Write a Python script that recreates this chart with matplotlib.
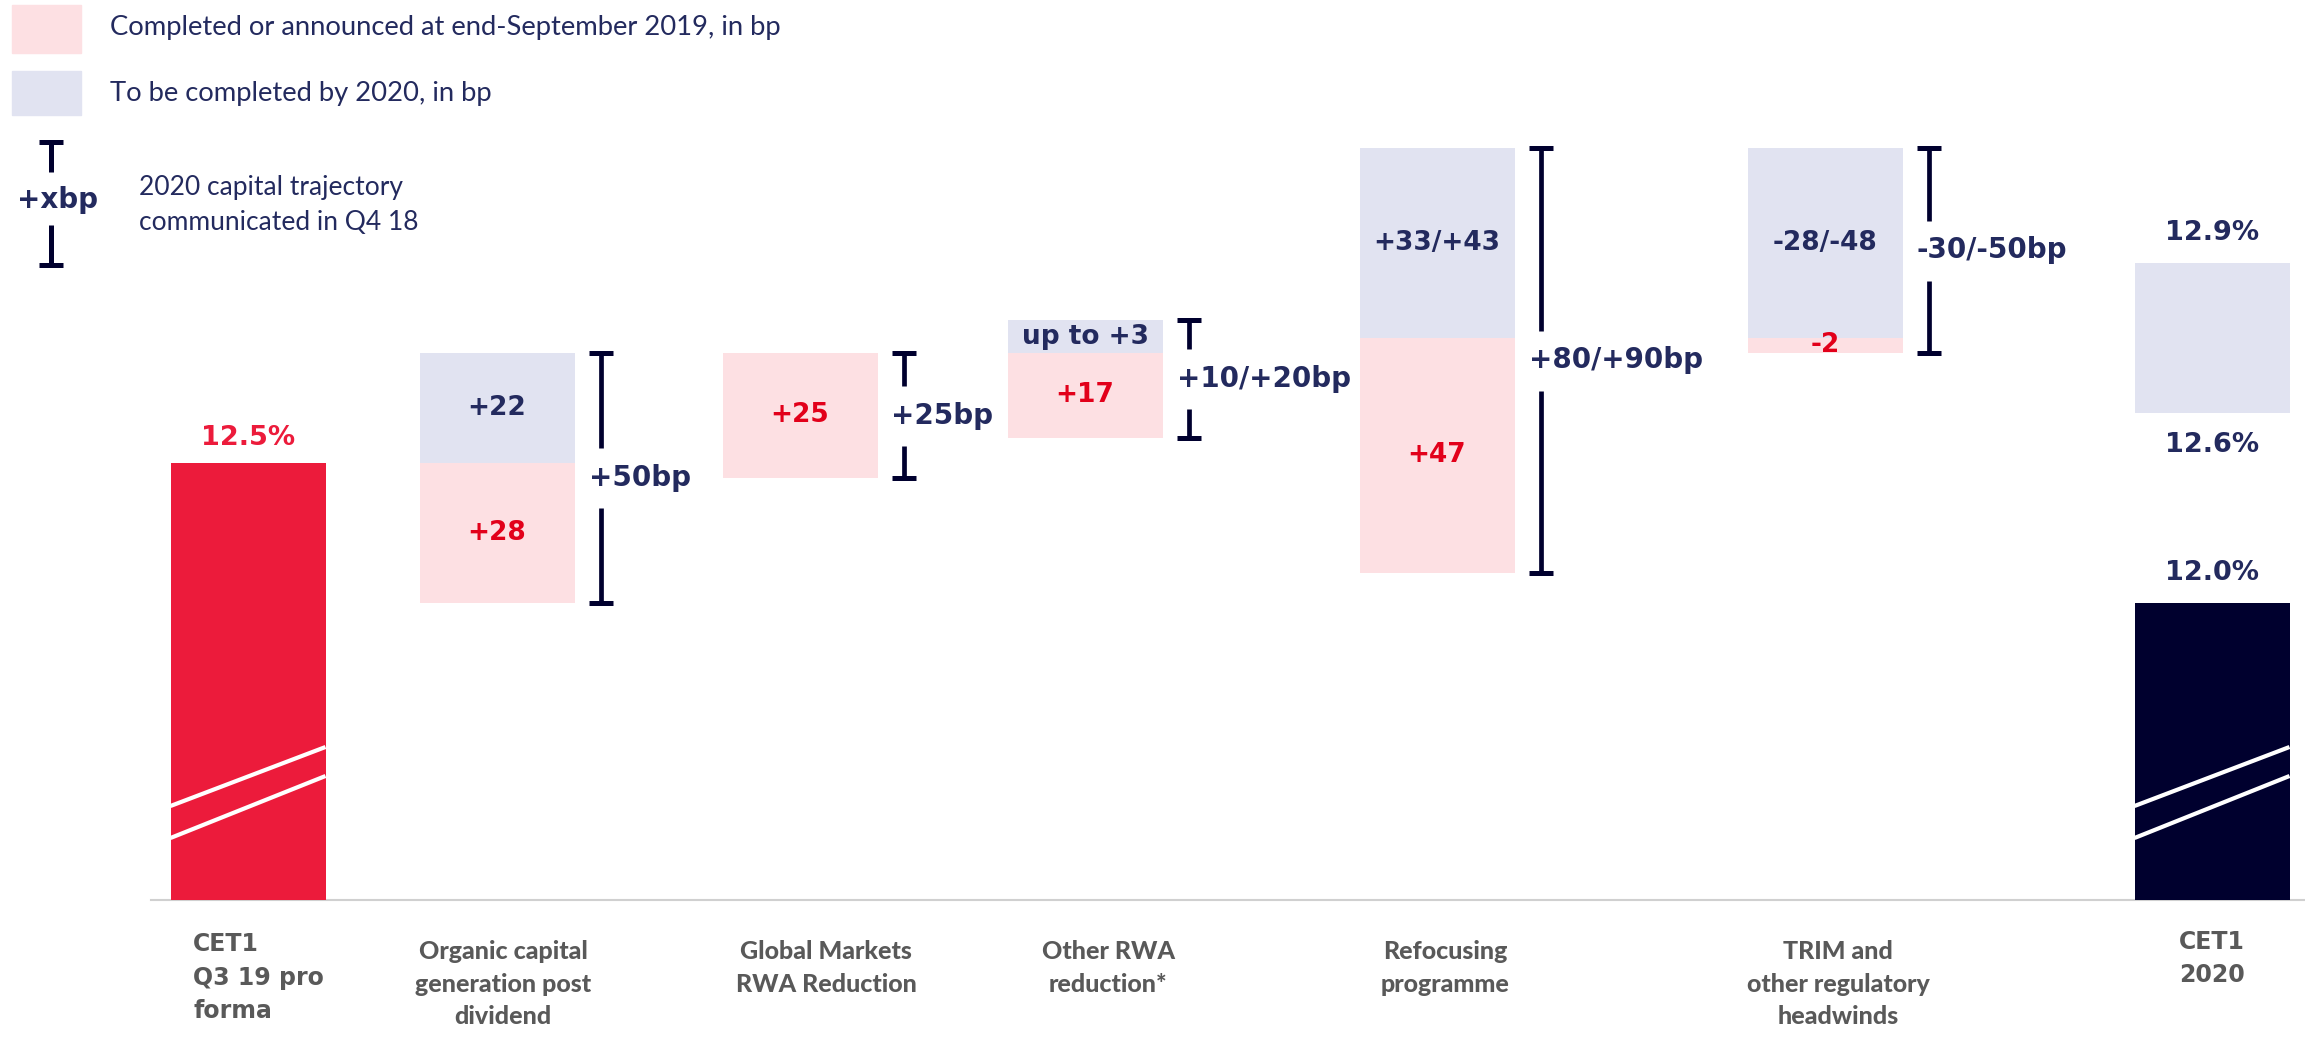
import matplotlib
matplotlib.use("Agg")
import matplotlib.pyplot as plt
from matplotlib.patches import Rectangle

# ---------------- data ----------------
categories = ["CET1\nQ3 19 pro\nforma",
              "Organic capital\ngeneration post\ndividend",
              "Global Markets\nRWA Reduction",
              "Other RWA\nreduction*",
              "Refocusing\nprogramme",
              "TRIM and\nother regulatory\nheadwinds",
              "CET1\n2020"]
cet1_start = 12.5                    # % , Q3 19 pro forma
cet1_end_low, cet1_end_high = 12.6, 12.9
cet1_end_floor = 12.0
done_bp = [28, 25, 17, 47, -2]       # completed or announced at end-Sept 2019
todo_bp = [22, 0, 3, 38, -38]        # to be completed by 2020 (mid of range)
done_labels = ["+28", "+25", "+17", "+47", "-2"]
todo_labels = ["+22", "", "up to +3", "+33/+43", "-28/-48"]
target_labels = ["+50bp", "+25bp", "+10/+20bp", "+80/+90bp", "-30/-50bp"]

# ---------------- style / layout ----------------
W, H = 2305, 1041
x_centres = [248, 497, 800, 1085, 1437, 1825, 2212]   # px
label_dx = [0, 6, 26, 23, 8, 13, 0]
BAR_W = 155
BASE = 1162.6          # bp level drawn at the broken baseline
END_BAR_LIFT = 22      # source draws the broken 12.0% bar higher than scale
MIN_TODO, MIN_DONE = 6.6, 3.0
GAP = 6.0              # bp gap around bracket text

RED = "#EC1B3B"
DARK = "#00002E"
PINK = "#FDE0E3"
LAV = "#E1E3F1"
NAVY = "#232A5E"
LRED = "#E2001A"
GREY = "#595959"
NUM = dict(family="DejaVu Sans", weight="bold")

fig = plt.figure(figsize=(W / 100, H / 100), dpi=100)
ax = fig.add_axes([0, 0, 1, 1])
ax.set_xlim(0, W)
ax.set_ylim(1250 - (H - 463) / 5.0, 1250 + 463 / 5.0)
ax.axis("off")

lay = fig.add_axes([0, 0, 1, 1])
lay.set_xlim(0, W)
lay.set_ylim(H, 0)
lay.axis("off")

# baseline
ax.plot([151, W], [BASE, BASE], color="#d0d0d0", lw=1.5, zorder=1)


def broken_bar(xc, top, color):
    ax.bar(xc, top - BASE, bottom=BASE, width=BAR_W, color=color, zorder=2)
    x0, x1 = xc - BAR_W / 2, xc + BAR_W / 2
    for lft, rgt in [(18.8, 30.6), (12.4, 24.8)]:
        ax.plot([x0, x1], [BASE + lft, BASE + rgt], color="white", lw=3,
                zorder=3, solid_capstyle="butt")


def bracket(x, lo, hi, text):
    mid = (lo + hi) / 2
    kw = dict(color=DARK, solid_capstyle="butt", zorder=4)
    ax.plot([x, x], [hi, mid + GAP], lw=3.4, **kw)
    ax.plot([x, x], [lo, mid - GAP], lw=3.4, **kw)
    ax.plot([x - 12, x + 12], [hi, hi], lw=3.6, **kw)
    ax.plot([x - 12, x + 12], [lo, lo], lw=3.6, **kw)
    ax.text(x - 12, mid, text, ha="left", va="center", color=NAVY,
            fontsize=20, zorder=5, **NUM)


# start bar
start = cet1_start * 100
broken_bar(x_centres[0], start, RED)
ax.text(x_centres[0], start + 5, f"{cet1_start:.1f}%", ha="center",
        va="center", color=RED, fontsize=19.5, **NUM)

# steps
level = start
for i in range(len(done_bp)):
    xc = x_centres[i + 1]
    t, d = todo_bp[i], done_bp[i]
    if t >= 0:
        t_lo, t_hi = level, level + max(t, MIN_TODO) if t else level
        d_lo, d_hi = level - max(abs(d), MIN_DONE), level
    else:
        t_lo, t_hi = level + t, level
        d_lo, d_hi = level + t - max(abs(d), MIN_DONE), level + t
    if t:
        ax.bar(xc, t_hi - t_lo, bottom=t_lo, width=BAR_W, color=LAV, zorder=2)
        ax.text(xc, (t_lo + t_hi) / 2, todo_labels[i], ha="center",
                va="center", color=NAVY, fontsize=19, zorder=5, **NUM)
    ax.bar(xc, d_hi - d_lo, bottom=d_lo, width=BAR_W, color=PINK, zorder=2)
    ax.text(xc, (d_lo + d_hi) / 2, done_labels[i], ha="center",
            va="center", color=LRED, fontsize=19, zorder=5, **NUM)
    lo = min(d_lo, t_lo)
    hi = max(d_hi, t_hi)
    bracket(xc + BAR_W / 2 + 26, lo, hi, target_labels[i])
    level += t

# end column
xe = x_centres[-1]
lo_e, hi_e = cet1_end_low * 100, cet1_end_high * 100
ax.bar(xe, hi_e - lo_e, bottom=lo_e, width=BAR_W, color=LAV, zorder=2)
ax.text(xe, hi_e + 6, f"{cet1_end_high:.1f}%", ha="center", va="center",
        color=NAVY, fontsize=19.5, **NUM)
ax.text(xe, lo_e - 6.4, f"{cet1_end_low:.1f}%", ha="center", va="center",
        color=NAVY, fontsize=19.5, **NUM)
floor_top = cet1_end_floor * 100 + END_BAR_LIFT
broken_bar(xe, floor_top, DARK)
ax.text(xe, floor_top + 6, f"{cet1_end_floor:.1f}%", ha="center",
        va="center", color=NAVY, fontsize=19.5, **NUM)

# category labels
for i, lab in enumerate(categories):
    if i == 0:
        lay.text(193, 932, lab, ha="left", va="top", color=GREY, fontsize=17,
                 linespacing=1.5, **NUM)
    elif i == len(categories) - 1:
        lay.text(x_centres[i], 930, lab, ha="center", va="top", color=GREY,
                 fontsize=17, linespacing=1.5, **NUM)
    else:
        lay.text(x_centres[i] + label_dx[i], 940, lab, ha="center", va="top",
                 color=GREY, fontsize=18, linespacing=1.5,
                 family="Lato", weight="black")

# legend
lay.add_patch(Rectangle((12, 5), 69, 48, color=PINK))
lay.add_patch(Rectangle((12, 71), 69, 44, color=LAV))
lay.text(110, 28, "Completed or announced at end-September 2019, in bp",
         va="center", color=NAVY, fontsize=19.7, family="Lato")
lay.text(110, 93, "To be completed by 2020, in bp", va="center", color=NAVY,
         fontsize=19.7, family="Lato")
kw = dict(color=DARK, solid_capstyle="butt")
lay.plot([51, 51], [142, 172], lw=3.6, **kw)
lay.plot([39, 63], [142, 142], lw=3.6, **kw)
lay.plot([51, 51], [225, 265], lw=3.6, **kw)
lay.plot([39, 63], [265, 265], lw=3.6, **kw)
lay.text(57, 200, "+xbp", ha="center", va="center", color=NAVY, fontsize=20,
         **NUM)
lay.text(139, 188, "2020 capital trajectory", va="center", color=NAVY,
         fontsize=19, family="Lato")
lay.text(139, 223, "communicated in Q4 18", va="center", color=NAVY,
         fontsize=19, family="Lato")

fig.savefig("out.png", dpi=100)
